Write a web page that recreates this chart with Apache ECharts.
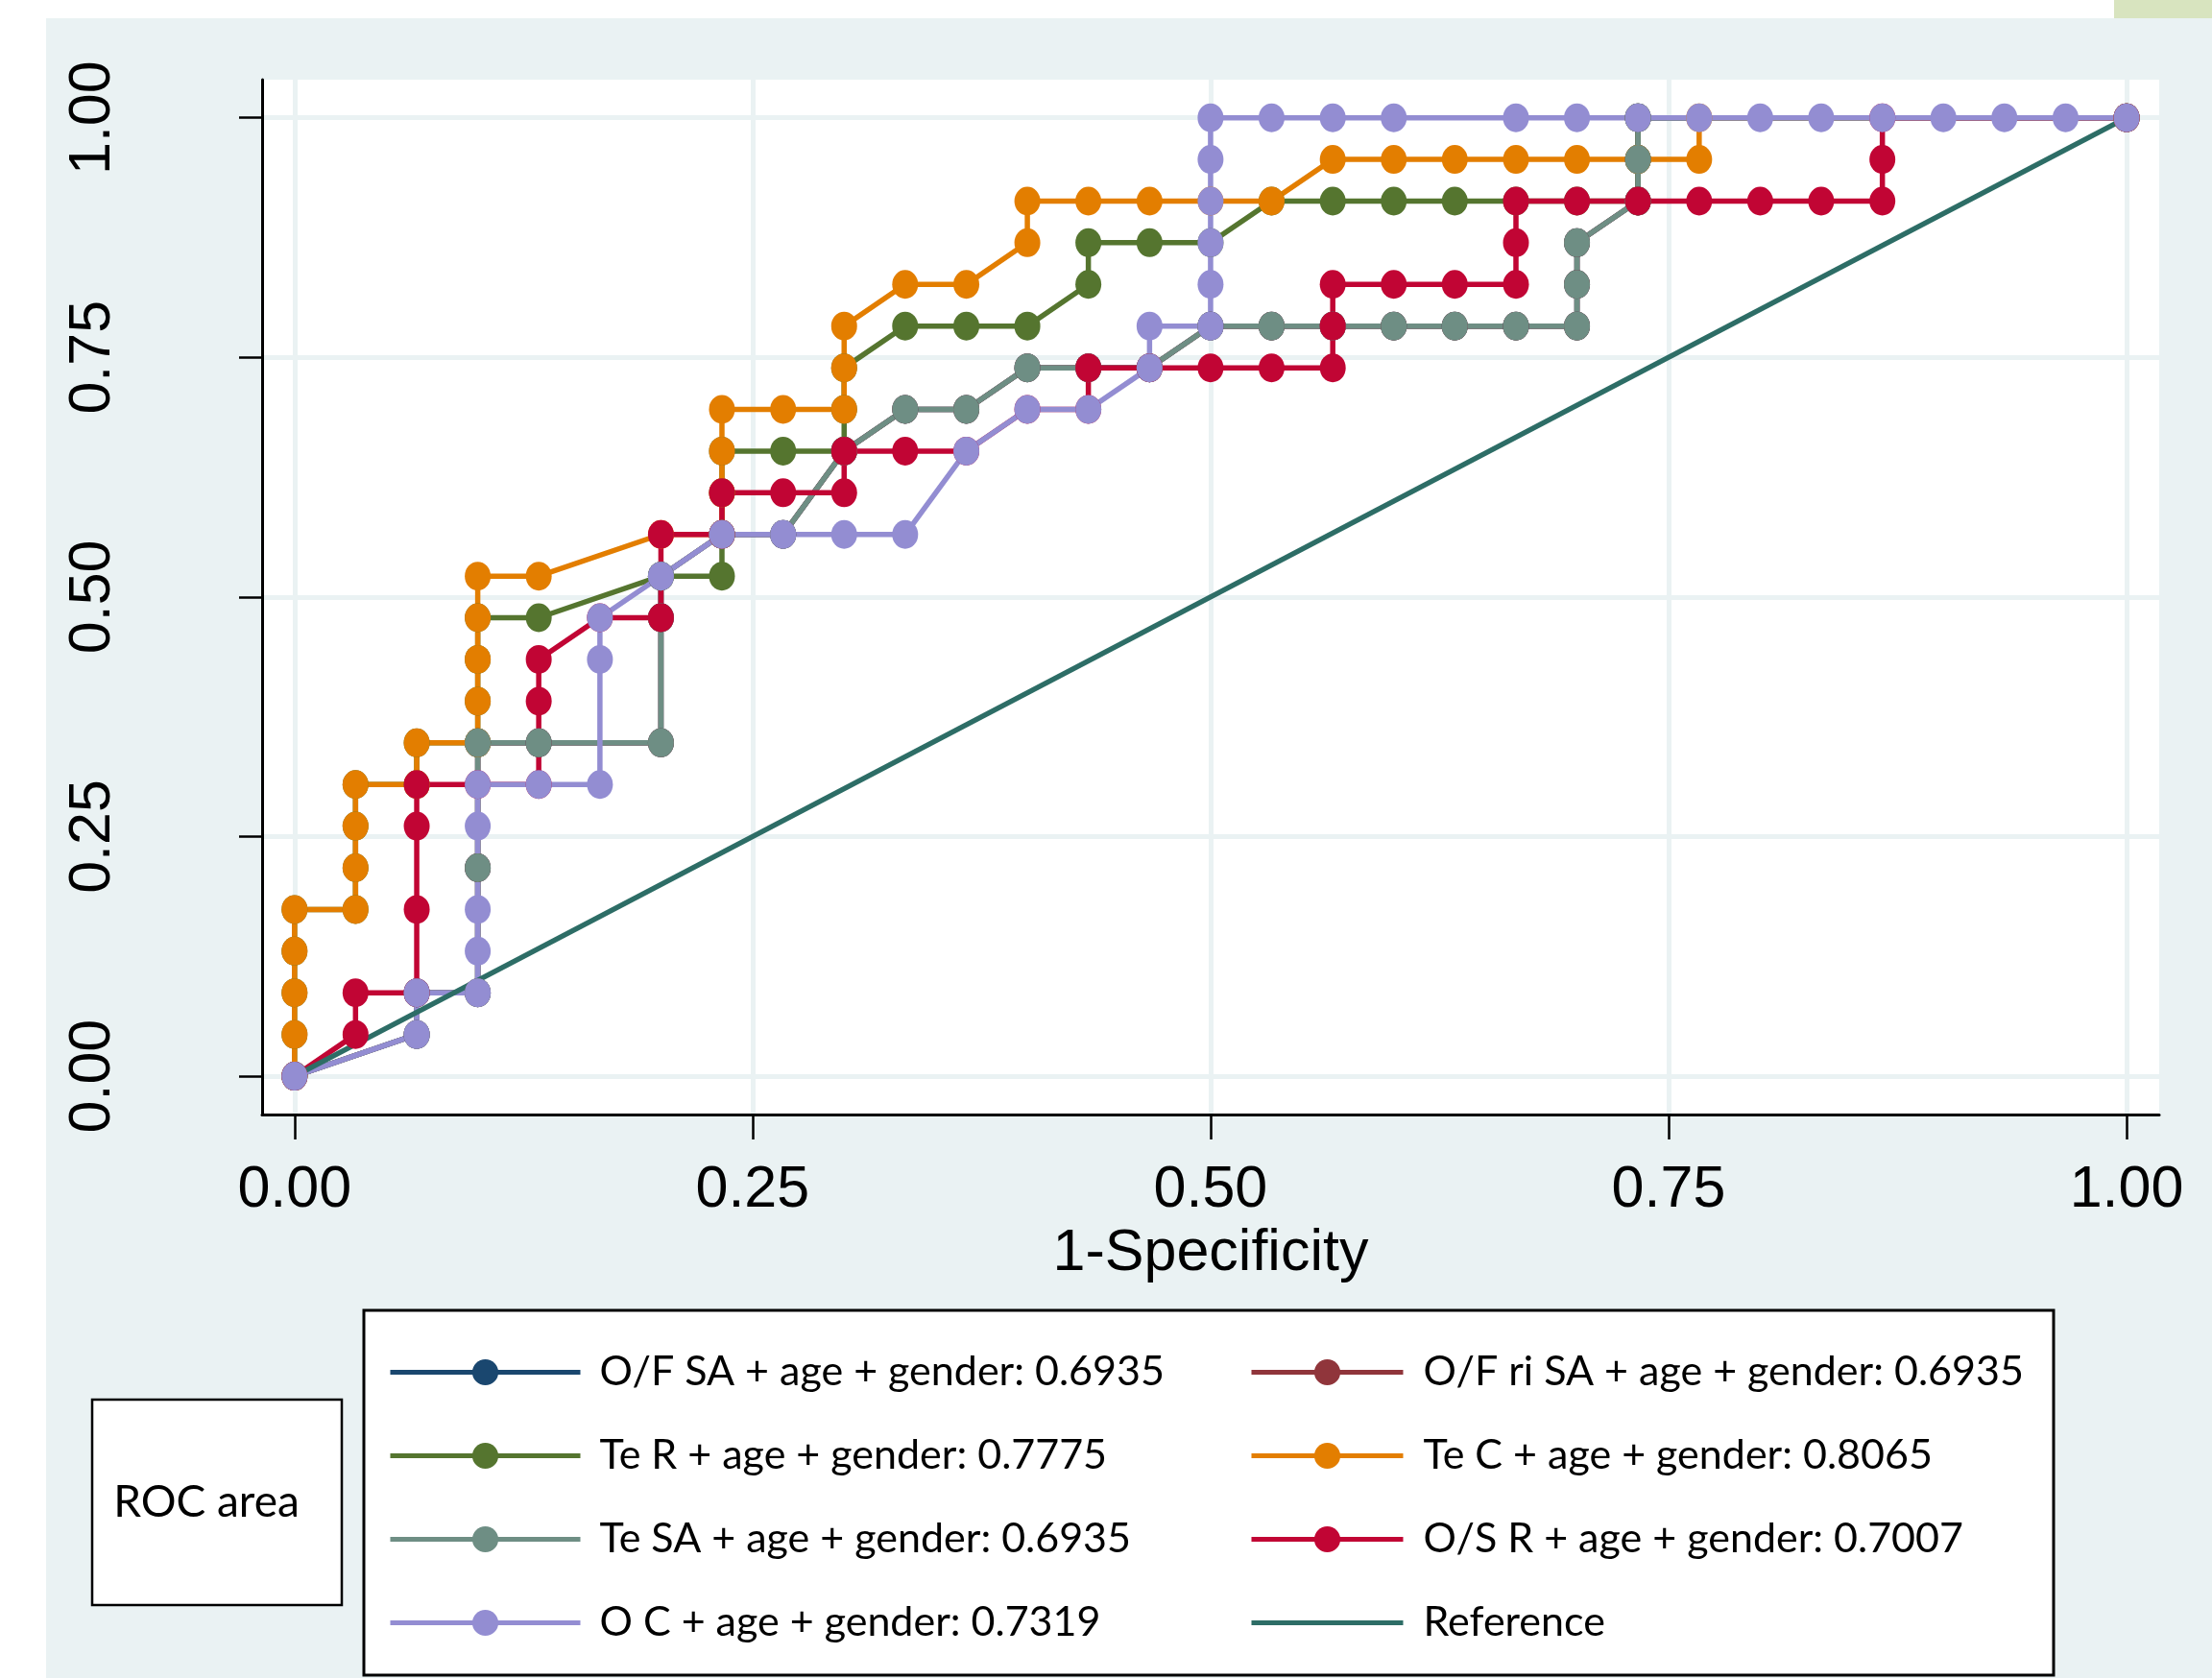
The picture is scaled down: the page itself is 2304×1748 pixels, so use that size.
<!DOCTYPE html>
<html>
<head>
<meta charset="utf-8">
<script src="https://cdn.jsdelivr.net/npm/echarts@6.0.0/dist/echarts.min.js"></script>
<style>
  html, body { margin: 0; padding: 0; background: #ffffff; }
  #chart { width: 2304px; height: 1748px; }
</style>
</head>
<body>
<div id="chart"></div>
<script>
// ---- Data (1-Specificity, Sensitivity) ----
const axisTicks = [0, 0.25, 0.5, 0.75, 1];

const teSaFpr = [0,0.0667,0.0667,0.1,0.1,0.1,0.1333,0.2,0.2,0.2,0.2333,0.2667,0.3,0.3333,0.3667,0.4,0.4333,0.4667,0.5,0.5333,0.5667,0.6,0.6333,0.6667,0.7,0.7,0.7,0.7333,0.7333,0.7333,1];
const teSaTpr = [0,0.0435,0.087,0.087,0.2174,0.3478,0.3478,0.3478,0.4783,0.5217,0.5652,0.5652,0.6522,0.6957,0.6957,0.7391,0.7391,0.7391,0.7826,0.7826,0.7826,0.7826,0.7826,0.7826,0.7826,0.8261,0.8696,0.913,0.9565,1,1];

// O/F SA and O/F ri SA share the Te SA curve (same area, fully covered in the reference)
const ofSaFpr = teSaFpr;
const ofSaTpr = teSaTpr;
const ofRiSaFpr = teSaFpr;
const ofRiSaTpr = teSaTpr;

const teRFpr = [0,0,0,0,0,0.0333,0.0333,0.0333,0.0333,0.0667,0.0667,0.1,0.1,0.1,0.1,0.1333,0.2,0.2333,0.2333,0.2333,0.2333,0.2667,0.3,0.3,0.3,0.3333,0.3667,0.4,0.4333,0.4333,0.4667,0.5,0.5333,0.5667,0.6,0.6333,0.6667,0.7,0.7333,0.7333,0.7333,1];
const teRTpr = [0,0.0435,0.087,0.1304,0.1739,0.1739,0.2174,0.2609,0.3043,0.3043,0.3478,0.3478,0.3913,0.4348,0.4783,0.4783,0.5217,0.5217,0.5652,0.6087,0.6522,0.6522,0.6522,0.6957,0.7391,0.7826,0.7826,0.7826,0.8261,0.8696,0.8696,0.8696,0.913,0.913,0.913,0.913,0.913,0.913,0.913,0.9565,1,1];

const teCFpr = [0,0,0,0,0,0.0333,0.0333,0.0333,0.0333,0.0667,0.0667,0.1,0.1,0.1,0.1,0.1,0.1333,0.2,0.2333,0.2333,0.2333,0.2333,0.2667,0.3,0.3,0.3,0.3333,0.3667,0.4,0.4,0.4333,0.4667,0.5,0.5333,0.5667,0.6,0.6333,0.6667,0.7,0.7333,0.7667,0.7667,1];
const teCTpr = [0,0.0435,0.087,0.1304,0.1739,0.1739,0.2174,0.2609,0.3043,0.3043,0.3478,0.3478,0.3913,0.4348,0.4783,0.5217,0.5217,0.5652,0.5652,0.6087,0.6522,0.6957,0.6957,0.6957,0.7391,0.7826,0.8261,0.8261,0.8696,0.913,0.913,0.913,0.913,0.913,0.9565,0.9565,0.9565,0.9565,0.9565,0.9565,0.9565,1,1];

const osRFpr = [0,0.0333,0.0333,0.0667,0.0667,0.0667,0.0667,0.1,0.1333,0.1333,0.1333,0.1667,0.2,0.2,0.2333,0.2333,0.2667,0.3,0.3,0.3333,0.3667,0.4,0.4333,0.4333,0.4667,0.5,0.5333,0.5667,0.5667,0.5667,0.6,0.6333,0.6667,0.6667,0.6667,0.7,0.7333,0.7667,0.8,0.8333,0.8667,0.8667,0.8667,1];
const osRTpr = [0,0.0435,0.087,0.087,0.1739,0.2609,0.3043,0.3043,0.3043,0.3913,0.4348,0.4783,0.4783,0.5652,0.5652,0.6087,0.6087,0.6087,0.6522,0.6522,0.6522,0.6957,0.6957,0.7391,0.7391,0.7391,0.7391,0.7391,0.7826,0.8261,0.8261,0.8261,0.8261,0.8696,0.913,0.913,0.913,0.913,0.913,0.913,0.913,0.9565,1,1];

const oCFpr = [0,0.0667,0.0667,0.1,0.1,0.1,0.1,0.1,0.1333,0.1667,0.1667,0.1667,0.2,0.2333,0.2667,0.3,0.3333,0.3667,0.4,0.4333,0.4667,0.4667,0.5,0.5,0.5,0.5,0.5,0.5,0.5333,0.5667,0.6,0.6667,0.7,0.7333,0.7667,0.8,0.8333,0.8667,0.9,0.9333,0.9667,1];
const oCTpr = [0,0.0435,0.087,0.087,0.1304,0.1739,0.2609,0.3043,0.3043,0.3043,0.4348,0.4783,0.5217,0.5652,0.5652,0.5652,0.5652,0.6522,0.6957,0.6957,0.7391,0.7826,0.7826,0.8261,0.8696,0.913,0.9565,1,1,1,1,1,1,1,1,1,1,1,1,1,1,1];

const refFpr = [0, 1];
const refTpr = [0, 1];

const seriesNames = [
  'O/F SA + age + gender: 0.6935',
  'O/F ri SA + age + gender: 0.6935',
  'Te R + age + gender: 0.7775',
  'Te C + age + gender: 0.8065',
  'Te SA + age + gender: 0.6935',
  'O/S R + age + gender: 0.7007',
  'O C + age + gender: 0.7319',
  'Reference'
];
const seriesColors = ['#1a476f', '#90353b', '#55752f', '#e37e00', '#6e8e84', '#c10534', '#938dd2', '#2d6d66'];
const seriesFpr = [ofSaFpr, ofRiSaFpr, teRFpr, teCFpr, teSaFpr, osRFpr, oCFpr, refFpr];
const seriesTpr = [ofSaTpr, ofRiSaTpr, teRTpr, teCTpr, teSaTpr, osRTpr, oCTpr, refTpr];

const xTitle = '1-Specificity';
const boxLabel = 'ROC area';

// ---- Chart ----
const chart = echarts.init(document.getElementById('chart'), null, { renderer: 'canvas' });

const tickFont = 'Liberation Sans';
const legendFont = 'Lato';

const series = seriesNames.map((name, s) => {
  const isRef = name === 'Reference';
  return {
    name: name,
    type: 'line',
    data: seriesFpr[s].map((x, k) => [x, seriesTpr[s][k]]),
    symbol: isRef ? 'none' : 'circle',
    symbolSize: [27, 30],
    showSymbol: !isRef,
    showAllSymbol: true,
    clip: false,
    animation: false,
    silent: true,
    lineStyle: { color: seriesColors[s], width: 5.5, cap: 'butt' },
    itemStyle: { color: seriesColors[s], borderWidth: 0 },
    emphasis: { disabled: true }
  };
});

const legendText = (pad) => ({
  fontFamily: legendFont, fontSize: 43, color: '#000',
  padding: [0, 0, 0, pad]
});

const legendItem = (name) => name === 'Reference'
  ? { name: name, itemStyle: { opacity: 0 } }
  : { name: name };

const option = {
  backgroundColor: '#ffffff',
  animation: false,
  graphic: [
    { type: 'rect', z: -10, silent: true, shape: { x: 48, y: 19, width: 2256, height: 1729 }, style: { fill: '#eaf2f3' } },
    { type: 'rect', z: -10, silent: true, shape: { x: 2202, y: 0, width: 102, height: 19 }, style: { fill: '#d8e4bf' } },
    { type: 'rect', z: 1, silent: true, shape: { x: 379, y: 1365, width: 1760, height: 380 }, style: { fill: '#ffffff', stroke: '#000', lineWidth: 3 } },
    { type: 'rect', z: 1, silent: true, shape: { x: 96, y: 1458, width: 260, height: 214 }, style: { fill: '#ffffff', stroke: '#000', lineWidth: 2.5 } },
    { type: 'text', z: 5, silent: true, style: { text: boxLabel, x: 215, y: 1565, align: 'center', verticalAlign: 'middle', fontFamily: legendFont, fontSize: 46, fill: '#000' } }
  ],
  grid: {
    left: 273, top: 83, right: 55, bottom: 587,
    show: true, backgroundColor: '#ffffff', borderWidth: 0,
    containLabel: false
  },
  xAxis: {
    type: 'value',
    min: -0.0177, max: 1.0178,
    name: xTitle,
    nameLocation: 'middle',
    nameGap: 101,
    nameTextStyle: { fontFamily: tickFont, fontSize: 61, color: '#000' },
    axisLine: { show: true, onZero: false, lineStyle: { color: '#000', width: 3 } },
    axisTick: { show: true, length: 26, customValues: axisTicks, lineStyle: { color: '#000', width: 2.5 } },
    axisLabel: { customValues: axisTicks, formatter: (v) => v.toFixed(2), fontFamily: tickFont, fontSize: 61, color: '#000', margin: 49, lineHeight: 61 },
    splitLine: { show: true, lineStyle: { color: '#eaf2f3', width: 5 } }
  },
  yAxis: {
    type: 'value',
    min: -0.040, max: 1.0397,
    axisLine: { show: true, onZero: false, lineStyle: { color: '#000', width: 3 } },
    axisTick: { show: true, length: 24, customValues: axisTicks, lineStyle: { color: '#000', width: 2.5 } },
    axisLabel: { customValues: axisTicks, formatter: (v) => v.toFixed(2), rotate: 90, fontFamily: tickFont, fontSize: 61, color: '#000', margin: 145, lineHeight: 61 },
    splitLine: { show: true, lineStyle: { color: '#eaf2f3', width: 5 } }
  },
  legend: [
    {
      data: [seriesNames[0], seriesNames[2], seriesNames[4], seriesNames[6]].map(legendItem),
      orient: 'vertical', left: 404, top: 1408, padding: 0, height: 340,
      itemWidth: 198, itemHeight: 34, itemGap: 44,
      selectedMode: false,
      textStyle: legendText(15),
      lineStyle: { width: 5 }
    },
    {
      data: [seriesNames[1], seriesNames[3], seriesNames[5], seriesNames[7]].map(legendItem),
      orient: 'vertical', left: 1301, top: 1408, padding: 0, height: 340,
      itemWidth: 158, itemHeight: 34, itemGap: 44,
      selectedMode: false,
      textStyle: legendText(16),
      lineStyle: { width: 5 }
    }
  ],
  series: series
};

chart.setOption(option);
</script>
</body>
</html>
